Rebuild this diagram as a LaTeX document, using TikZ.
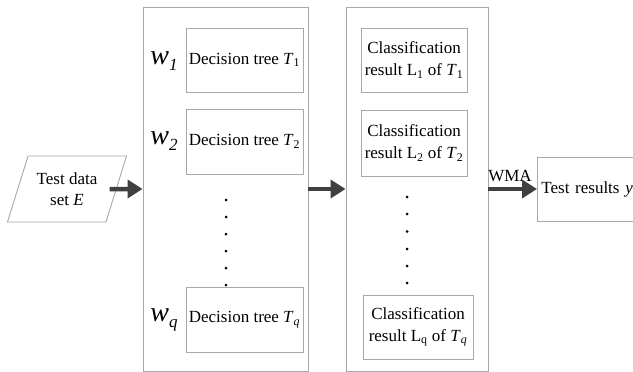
\documentclass[tikz,border=0pt]{standalone}
\usepackage{fontspec}
\setmainfont{Liberation Serif}
\usetikzlibrary{arrows.meta,shapes.geometric}
\definecolor{boxgray}{HTML}{A8A8A8}
\definecolor{arrowgray}{HTML}{404040}
\tikzset{
  box/.style={draw=boxgray, line width=0.9pt, fill=white, inner sep=2pt, align=center,
              font=\fontsize{17}{21.5}\selectfont},
  bigbox/.style={draw=boxgray, line width=0.9pt, fill=white},
  fat/.style={draw=arrowgray, line width=4.5pt, -{Triangle[length=15pt,width=18pt]}},
  wlab/.style={inner sep=0pt, font=\fontsize{28}{28}\selectfont\itshape},
  plain/.style={inner sep=0pt, font=\fontsize{17}{21}\selectfont}
}
\newcommand{\wsub}[1]{w\raisebox{-6pt}{\fontsize{17}{17}\selectfont\itshape #1}}
\begin{document}
\begin{tikzpicture}[x=1pt,y=-1pt]
\useasboundingbox[fill=white] (0,0) rectangle (633,372);
% big containers
\node (big1) [bigbox, minimum width=165pt, minimum height=364pt] at (225.5,189) {};
\node (big2) [bigbox, minimum width=142pt, minimum height=364pt] at (417,189) {};
% decision trees
\node (dt1) [box, minimum width=117pt, minimum height=64pt] at (244.5,60) {Decision tree \textit{T}\textsubscript{1}};
\node (dt2) [box, minimum width=117pt, minimum height=65pt] at (244.5,141.5) {Decision tree \textit{T}\textsubscript{2}};
\node (dtq) [box, minimum width=117pt, minimum height=65pt] at (244.5,319.5) {Decision tree \textit{T}\textsubscript{\textit{q}}};
% weights
\node (w1) [wlab] at (164,61) {\wsub{1}};
\node (w2) [wlab] at (164,141) {\wsub{2}};
\node (wq) [wlab] at (164,320) {\wsub{q}};
% classification results
\node (cr1) [box, minimum width=106pt, minimum height=64pt] at (414,60) {Classification\\result L\textsubscript{1} of \textit{T}\textsubscript{1}};
\node (cr2) [box, minimum width=106pt, minimum height=66pt] at (414,143) {Classification\\result L\textsubscript{2} of \textit{T}\textsubscript{2}};
\node (crq) [box, minimum width=110pt, minimum height=64pt] at (418,327) {Classification\\result L\textsubscript{q} of \textit{T}\textsubscript{\textit{q}}};
% dots
\foreach \y in {200,217,234,251,268,285} \fill (226,\y) circle (1.5pt);
\foreach \y in {197,214,231.5,249,266,283} \fill (407,\y) circle (1.5pt);
% input parallelogram
\node (E) [draw=boxgray, line width=0.9pt, trapezium, trapezium left angle=64, trapezium right angle=116,
  trapezium stretches=true, minimum width=120pt, minimum height=66pt, align=center, inner sep=0pt,
  font=\fontsize{17}{21}\selectfont] at (67,189) {Test data\\set \textit{E}};
% result box
\node (res) [box, anchor=west, minimum height=64pt, inner xsep=4pt, text width=96pt, align=left] at (537,189) {Test results \textit{y}};
% WMA label
\node (wma) [plain] at (510,176) {WMA};
% arrows
\draw[fat] ([xshift=-7pt]E.east) -- (big1.west);
\draw[fat] (big1.east) -- (big2.west);
\draw[fat] (big2.east) -- (res.west);
\end{tikzpicture}
\end{document}
